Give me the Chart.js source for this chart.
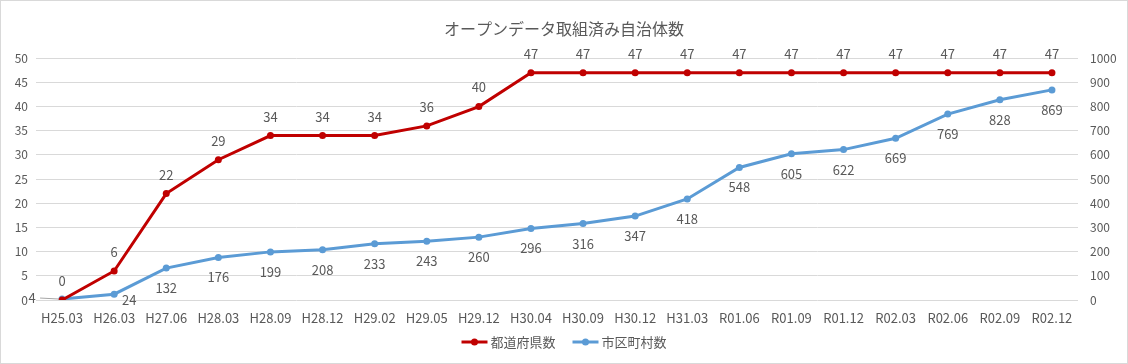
<!DOCTYPE html>
<html>
<head>
<meta charset="utf-8">
<script src="https://cdn.jsdelivr.net/npm/chart.js@4/dist/chart.umd.min.js"></script>
<style>
  html, body { margin: 0; padding: 0; background: #fff; }
  #wrap { width: 1126px; height: 362px; border: 1px solid #d9d9d9; }
</style>
</head>
<body>
<div id="wrap"><canvas id="c" width="1126" height="362"></canvas></div>
<script>
// オープンデータ取組済み自治体数
const labels = ["H25.03","H26.03","H27.06","H28.03","H28.09","H28.12","H29.02","H29.05","H29.12","H30.04",
  "H30.09","H30.12","H31.03","R01.06","R01.09","R01.12","R02.03","R02.06","R02.09","R02.12"];
const prefValues = [0,6,22,29,34,34,34,36,40,47,47,47,47,47,47,47,47,47,47,47];
const muniValues = [4,24,132,176,199,208,233,243,260,296,316,347,418,548,605,622,669,769,828,869];

const FONT = "'Noto Sans CJK JP', 'Noto Sans', sans-serif";
const TXT = "#595959";

// data labels + bottom legend (line with marker)
const extras = {
  id: "extras",
  afterDatasetsDraw(chart) {
    const ctx = chart.ctx;
    ctx.save();
    ctx.font = "13px " + FONT;
    ctx.fillStyle = TXT;
    ctx.textAlign = "center";
    ctx.textBaseline = "middle";
    chart.getDatasetMeta(0).data.forEach((p, i) => {
      ctx.fillText(prefValues[i], p.x, p.y - 19);
    });
    chart.getDatasetMeta(1).data.forEach((p, i) => {
      if (i === 0) {
        ctx.strokeStyle = "#a6a6a6";
        ctx.lineWidth = 1;
        ctx.beginPath();
        ctx.moveTo(p.x - 3, p.y);
        ctx.lineTo(p.x - 22, p.y - 1);
        ctx.stroke();
        ctx.fillText(muniValues[i], p.x - 30, p.y - 1);
      } else if (i === 1) {
        ctx.fillText(muniValues[i], p.x + 15, p.y + 6);
      } else {
        ctx.fillText(muniValues[i], p.x, p.y + 20);
      }
    });
    ctx.restore();
  },
  afterDraw(chart) {
    const ctx = chart.ctx;
    const ds = chart.data.datasets;
    ctx.save();
    ctx.font = "13px " + FONT;
    ctx.textBaseline = "middle";
    ctx.textAlign = "left";
    const lineW = 26, gapT = 3, gapItem = 17;
    const widths = ds.map(d => lineW + gapT + ctx.measureText(d.label).width);
    const total = widths.reduce((a, b) => a + b, 0) + gapItem * (ds.length - 1);
    let x = chart.width / 2 - total / 2;
    const y = chart.height - 21;
    ds.forEach((d, i) => {
      ctx.strokeStyle = d.borderColor;
      ctx.lineWidth = 3;
      ctx.beginPath();
      ctx.moveTo(x, y);
      ctx.lineTo(x + lineW, y);
      ctx.stroke();
      ctx.fillStyle = d.borderColor;
      ctx.beginPath();
      ctx.arc(x + lineW / 2, y, 3.5, 0, Math.PI * 2);
      ctx.fill();
      ctx.fillStyle = TXT;
      ctx.fillText(d.label, x + lineW + gapT, y);
      x += widths[i] + gapItem;
    });
    ctx.restore();
  }
};

new Chart(document.getElementById("c"), {
  type: "line",
  data: {
    labels: labels,
    datasets: [
      { label: "都道府県数", data: prefValues, yAxisID: "y", borderColor: "#C00000", backgroundColor: "#C00000",
        borderWidth: 3, pointRadius: 3.5, pointBorderWidth: 0, tension: 0 },
      { label: "市区町村数", data: muniValues, yAxisID: "y1", borderColor: "#5B9BD5", backgroundColor: "#5B9BD5",
        borderWidth: 3, pointRadius: 3.5, pointBorderWidth: 0, tension: 0 }
    ]
  },
  options: {
    responsive: false,
    animation: false,
    layout: { padding: { top: 10, bottom: 39, left: 0, right: 0 } },
    plugins: {
      title: { display: true, text: "オープンデータ取組済み自治体数", color: TXT,
        font: { family: FONT, size: 16, weight: "normal" }, padding: { top: 8, bottom: 20 } },
      legend: { display: false },
      tooltip: { enabled: false }
    },
    scales: {
      x: {
        offset: true,
        grid: { display: false, drawTicks: false },
        border: { display: false },
        ticks: { color: TXT, font: { family: FONT, size: 13 }, maxRotation: 0, autoSkip: false, padding: 10 },
        afterFit(s) { s.height = 24; }
      },
      y: {
        position: "left", min: 0, max: 50,
        ticks: { stepSize: 5, color: TXT, font: { family: FONT, size: 12 }, padding: 8 },
        grid: { color: "#d9d9d9", drawTicks: false },
        border: { display: false },
        afterFit(s) { s.width = 35; }
      },
      y1: {
        position: "right", min: 0, max: 1000,
        ticks: { stepSize: 100, color: TXT, font: { family: FONT, size: 12 }, padding: 12,
          callback: v => String(v) },
        grid: { display: false, drawTicks: false },
        border: { display: false },
        afterFit(s) { s.width = 49; }
      }
    }
  },
  plugins: [extras]
});
</script>
</body>
</html>
